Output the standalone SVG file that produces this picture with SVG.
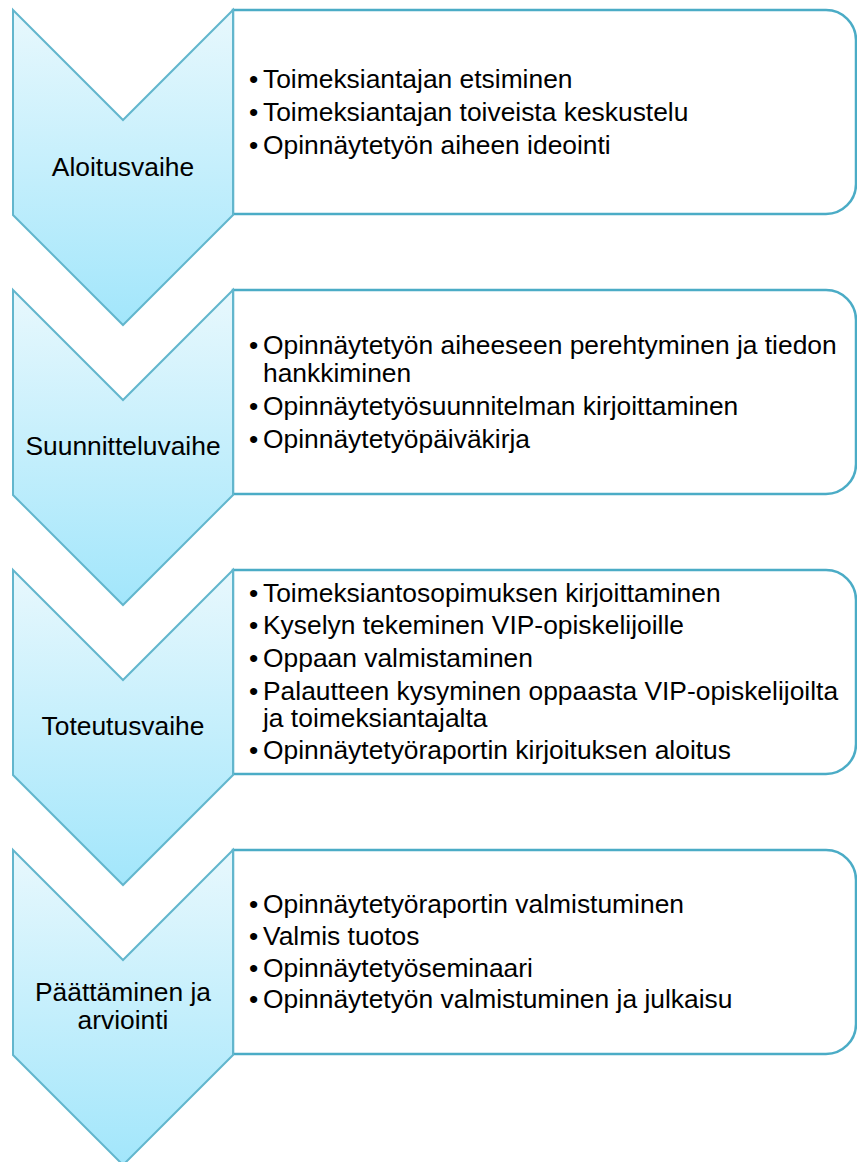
<svg xmlns="http://www.w3.org/2000/svg" width="857" height="1162" viewBox="0 0 857 1162">
  <defs>
    <linearGradient id="chevFill" x1="0" y1="0" x2="0" y2="1">
      <stop offset="0" stop-color="#e8f8fd"/>
      <stop offset="1" stop-color="#a2e6fb"/>
    </linearGradient>
    <style>
      .box { fill: #ffffff; stroke: #4bacc6; stroke-width: 2.5; }
      .chev { fill: url(#chevFill); stroke: #62b6cd; stroke-width: 2; stroke-linejoin: miter; }
      .lbl { font-family: "Liberation Sans", Arial, sans-serif; font-size: 26.4px; fill: #000000; text-anchor: middle; }
      .txt { font-family: "Liberation Sans", Arial, sans-serif; font-size: 26.4px; fill: #000000; }
    </style>
  </defs>
  <rect x="0" y="0" width="857" height="1162" fill="#ffffff"/>

  <g id="connectors"></g>

  <!-- Stage 1 -->
  <g id="stage1">
    <path class="box" d="M233,10 H826 A30,30 0 0 1 856,40 V184 A30,30 0 0 1 826,214 H233 Z"/>
    <polygon class="chev" points="13,10 123,120 233,10 233,215 123,325 13,215"/>
    <text class="lbl" x="123" y="176">Aloitusvaihe</text>
    <text class="txt" x="249" y="88">•</text><text class="txt" x="263" y="88">Toimeksiantajan etsiminen</text>
    <text class="txt" x="249" y="121">•</text><text class="txt" x="263" y="121">Toimeksiantajan toiveista keskustelu</text>
    <text class="txt" x="249" y="154">•</text><text class="txt" x="263" y="154">Opinnäytetyön aiheen ideointi</text>
  </g>

  <!-- Stage 2 -->
  <g id="stage2">
    <path class="box" d="M233,290 H826 A30,30 0 0 1 856,320 V464 A30,30 0 0 1 826,494 H233 Z"/>
    <polygon class="chev" points="13,290 123,400 233,290 233,495 123,605 13,495"/>
    <text class="lbl" x="123" y="455">Suunnitteluvaihe</text>
    <text class="txt" x="249" y="354">•</text><text class="txt" x="263" y="354">Opinnäytetyön aiheeseen perehtyminen ja tiedon</text>
    <text class="txt" x="263" y="382">hankkiminen</text>
    <text class="txt" x="249" y="415">•</text><text class="txt" x="263" y="415">Opinnäytetyösuunnitelman kirjoittaminen</text>
    <text class="txt" x="249" y="448">•</text><text class="txt" x="263" y="448">Opinnäytetyöpäiväkirja</text>
  </g>

  <!-- Stage 3 -->
  <g id="stage3">
    <path class="box" d="M233,570 H826 A30,30 0 0 1 856,600 V744 A30,30 0 0 1 826,774 H233 Z"/>
    <polygon class="chev" points="13,570 123,680 233,570 233,775 123,885 13,775"/>
    <text class="lbl" x="123" y="735">Toteutusvaihe</text>
    <text class="txt" x="249" y="602">•</text><text class="txt" x="263" y="602">Toimeksiantosopimuksen kirjoittaminen</text>
    <text class="txt" x="249" y="634">•</text><text class="txt" x="263" y="634">Kyselyn tekeminen VIP-opiskelijoille</text>
    <text class="txt" x="249" y="667">•</text><text class="txt" x="263" y="667">Oppaan valmistaminen</text>
    <text class="txt" x="249" y="700">•</text><text class="txt" x="263" y="700">Palautteen kysyminen oppaasta VIP-opiskelijoilta</text>
    <text class="txt" x="263" y="727">ja toimeksiantajalta</text>
    <text class="txt" x="249" y="759">•</text><text class="txt" x="263" y="759">Opinnäytetyöraportin kirjoituksen aloitus</text>
  </g>

  <!-- Stage 4 -->
  <g id="stage4">
    <path class="box" d="M233,850 H826 A30,30 0 0 1 856,880 V1024 A30,30 0 0 1 826,1054 H233 Z"/>
    <polygon class="chev" points="13,850 123,960 233,850 233,1055 123,1165 13,1055"/>
    <text class="lbl" x="123" y="1001">Päättäminen ja</text>
    <text class="lbl" x="123" y="1029">arviointi</text>
    <text class="txt" x="249" y="913">•</text><text class="txt" x="263" y="913">Opinnäytetyöraportin valmistuminen</text>
    <text class="txt" x="249" y="945">•</text><text class="txt" x="263" y="945">Valmis tuotos</text>
    <text class="txt" x="249" y="977">•</text><text class="txt" x="263" y="977">Opinnäytetyöseminaari</text>
    <text class="txt" x="249" y="1008">•</text><text class="txt" x="263" y="1008">Opinnäytetyön valmistuminen ja julkaisu</text>
  </g>
</svg>
